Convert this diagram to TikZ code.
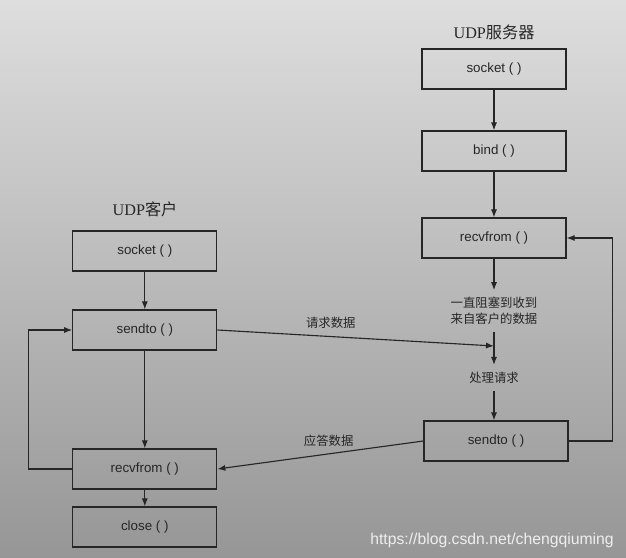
\documentclass[tikz,border=0pt]{standalone}
\usepackage{fontspec}
\setmainfont{Liberation Serif}
\setsansfont{Liberation Sans}
\newfontfamily\cjk{Noto Sans CJK SC}
\usepackage{xcolor}
\usepackage{tikz}
\usetikzlibrary{arrows.meta}
\definecolor{paperTop}{RGB}{222,222,222}
\definecolor{paperBot}{RGB}{150,150,150}
\definecolor{ink}{RGB}{38,38,38}
\definecolor{markWhite}{RGB}{238,238,238}

\begin{document}
\begin{tikzpicture}[>={Latex[length=2mm,width=1.5mm]},
  box/.style={draw=ink, line width=0.8pt, minimum width=3.6cm, minimum height=1cm,
    font=\sffamily\fontsize{9.5}{11}\selectfont, text=ink},
  note/.style={font=\cjk\fontsize{8.8}{11}\selectfont, text=ink, align=center, inner sep=5pt},
  title/.style={font=\fontsize{11.5}{14}\selectfont, text=ink},
  link/.style={->, draw=ink, line width=0.8pt}]
% \draw [help lines,color=green] (0,0) grid (16,14);
\shade [top color=paperTop, bottom color=paperBot] (0,0) rectangle (15.65,13.95);
\useasboundingbox (0,0) rectangle (15.65,13.95);
% server side
\node[title] (stitle) at (12.35,13.15) {UDP{\cjk 服务器}};
\node[box] (ssocket) at (12.35,12.225) {socket ( )};
\node[box] (sbind) at (12.35,10.175) {bind ( )};
\node[box] (srecv) at (12.35,8.0) {recvfrom ( )};
\node[note] (swait) at (12.35,6.175) {一直阻塞到收到\\来自客户的数据};
\coordinate (shit) at (12.35,5.3);
\node[note] (sproc) at (12.35,4.5) {处理请求};
\node[box] (ssend) at (12.4,2.925) {sendto ( )};
\draw [link] (ssocket) -- (sbind);
\draw [link] (sbind) -- (srecv);
\draw [link] (srecv) -- (swait);
\draw [link] (swait) -- (sproc);
\draw [link] (sproc.south) -- (sproc.south |- ssend.north);
\draw [link] (ssend.east) -- ++(1.1,0) |- (srecv.east);
% client side
\node[title] (ctitle) at (3.625,8.725) {UDP{\cjk 客户}};
\node[box] (csocket) at (3.62,7.675) {socket ( )};
\node[box] (csend) at (3.62,5.7) {sendto ( )};
\node[box] (crecv) at (3.62,2.225) {recvfrom ( )};
\node[box] (cclose) at (3.62,0.775) {close ( )};
\draw [link] (csocket) -- (csend);
\draw [link] (csend) -- (crecv);
\draw [link] (crecv) -- (cclose);
\draw [link] (crecv.west) -- ++(-1.1,0) |- (csend.west);
% messages
\draw [link] (csend.east) -- (shit) node[note, pos=0.41, above] (req) {请求数据};
\draw [link] (ssend.west) -- (crecv.east) node[note, pos=0.46, above] (resp) {应答数据};
\node[font=\sffamily\fontsize{11.2}{13}\selectfont, text=markWhite] (mark) at (12.3,0.45)
  {https://blog.csdn.net/chengqiuming};
\end{tikzpicture}
\end{document}
